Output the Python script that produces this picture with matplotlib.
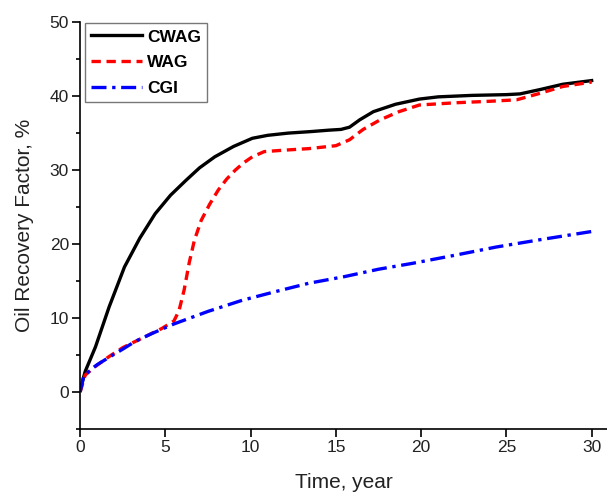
import numpy as np
import matplotlib.pyplot as plt
from matplotlib.ticker import MultipleLocator

# oil recovery factor (%) versus time (years) for the three injection schemes
t_cwag = [0, 0.3, 0.9, 1.7, 2.6, 3.5, 4.4, 5.3, 6.2, 7.0, 7.9, 9.0, 10.1, 11.0,
          12.2, 13.5, 14.6, 15.3, 15.8, 16.4, 17.2, 18.5, 19.9, 21.0, 23.0,
          25.0, 25.8, 27.0, 28.3, 30.0]
rf_cwag = [0.3, 2.8, 6.1, 11.5, 16.9, 20.8, 24.1, 26.6, 28.6, 30.3, 31.8, 33.2,
           34.3, 34.7, 35.0, 35.2, 35.4, 35.5, 35.8, 36.8, 37.9, 38.9, 39.6,
           39.9, 40.1, 40.2, 40.3, 40.9, 41.6, 42.1]

t_wag = [0, 0.3, 0.8, 1.7, 2.5, 3.2, 4.0, 4.8, 5.5, 5.8, 6.1, 6.4, 6.7, 7.1,
         7.6, 8.1, 8.6, 9.1, 9.6, 10.1, 10.8, 12.0, 13.4, 15.0, 15.8, 16.6,
         17.6, 18.7, 19.9, 22.0, 24.0, 25.6, 27.0, 28.3, 30.0]
rf_wag = [0, 2.3, 3.3, 4.8, 6.0, 6.8, 7.7, 8.6, 9.6, 11.0, 13.8, 17.5, 20.5,
          23.2, 25.4, 27.3, 28.8, 30.0, 31.0, 31.8, 32.5, 32.7, 32.9, 33.3,
          34.1, 35.5, 36.8, 37.9, 38.8, 39.1, 39.3, 39.5, 40.4, 41.3, 41.9]

t_cgi = [0, 0.2, 0.6, 1.0, 1.7, 2.5, 3.2, 4.2, 5.5, 7.5, 9.5, 11.5, 13.4,
         15.5, 17.5, 19.5, 22.0, 24.4, 27.0, 30.0]
rf_cgi = [0, 2.0, 3.0, 3.7, 4.7, 5.8, 6.8, 7.9, 9.2, 10.9, 12.4, 13.6, 14.7,
          15.6, 16.6, 17.4, 18.5, 19.6, 20.6, 21.7]

plt.rcParams['font.family'] = ['Liberation Sans', 'DejaVu Sans']

fig = plt.figure(figsize=(6.07, 4.92), dpi=100)
ax = fig.add_axes([0.132, 0.128, 0.868, 0.827])

ax.plot(t_cwag, rf_cwag, color='black', lw=2.4, label='CWAG')
ax.plot(t_wag, rf_wag, color='red', lw=2.4, dashes=(2.8, 1.7), label='WAG')
ax.plot(t_cgi, rf_cgi, color='blue', lw=2.4, dashes=(4.5, 1.7, 1.0, 1.7), label='CGI')

ax.set_xlim(0, 30.9)
ax.set_ylim(-5, 50)
ax.xaxis.set_major_locator(MultipleLocator(5))
ax.yaxis.set_major_locator(MultipleLocator(10))
ax.yaxis.set_minor_locator(MultipleLocator(5))

for side in ('top', 'right'):
    ax.spines[side].set_visible(False)
for side in ('left', 'bottom'):
    ax.spines[side].set_linewidth(1.2)

ax.tick_params(which='major', direction='out', length=5.5, width=1.2, pad=2.5,
               labelsize=12.5, colors='black', labelcolor='#222222')
ax.tick_params(which='minor', direction='out', length=3, width=1.2)

ax.set_xlabel('Time, year', fontsize=15, color='#222222', labelpad=13)
ax.set_ylabel('Oil Recovery Factor, %', fontsize=15, color='#222222', labelpad=11)

leg = ax.legend(loc='upper left', bbox_to_anchor=(0.0, 1.01), fancybox=False,
                edgecolor='#777777', framealpha=1, handlelength=2.9,
                borderaxespad=0.3, labelspacing=0.6, handletextpad=0.3,
                borderpad=0.35, prop={'weight': 'bold', 'size': 12.5})
leg.get_frame().set_linewidth(1.0)

fig.savefig('out.png', dpi=100)
